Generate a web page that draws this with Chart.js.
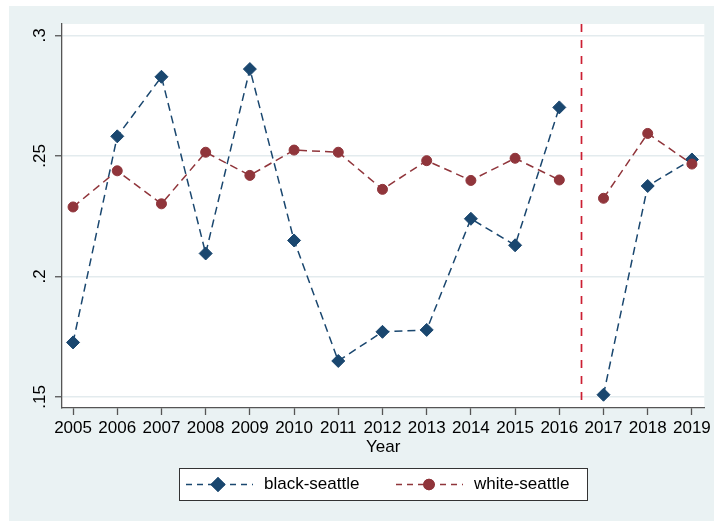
<!DOCTYPE html>
<html>
<head>
<meta charset="utf-8">
<script src="https://cdn.jsdelivr.net/npm/chart.js@4/dist/chart.umd.min.js"></script>
<style>
  html, body { margin: 0; padding: 0; background: #ffffff; }
  #wrap { width: 714px; height: 521px; }
</style>
</head>
<body>
<div id="wrap"><canvas id="c" width="714" height="521"></canvas></div>
<script>
// Yearly shares for two Seattle groups
const years = [2005, 2006, 2007, 2008, 2009, 2010, 2011, 2012, 2013, 2014, 2015, 2016, 2017, 2018, 2019];
const blackSeattle = [0.1726, 0.2581, 0.2828, 0.2095, 0.2860, 0.2149, 0.1649, 0.1770, 0.1778, 0.2239, 0.2129, 0.2701, 0.1509, 0.2375, 0.2485];
const whiteSeattle = [0.2288, 0.2438, 0.2301, 0.2515, 0.2419, 0.2524, 0.2515, 0.2361, 0.2480, 0.2398, 0.2490, 0.2400, 0.2324, 0.2593, 0.2466];
const yTicks = [0.15, 0.2, 0.25, 0.3];
const yTickLabels = ['.15', '.2', '.25', '.3'];
const seriesNames = ['black-seattle', 'white-seattle'];
const breakYear = 2016.5;   // policy line; series are not joined across it

const NAVY = '#1A476F';
const MAROON = '#90353B';
const PANEL = '#EAF2F3';
const FONT = "'Liberation Sans', Arial, Helvetica, sans-serif";

Chart.defaults.font.family = FONT;
Chart.defaults.font.size = 17;
Chart.defaults.color = '#000000';

const toPoints = vals => years.map((yr, i) => ({ x: yr, y: vals[i] }));
const skipBreak = ctx => {
  const a = years[ctx.p0DataIndex], b = years[ctx.p1DataIndex];
  return (a < breakYear && b > breakYear) ? 'transparent' : undefined;
};

const backdrop = {
  id: 'backdrop',
  beforeDraw(chart) {
    const { ctx, chartArea: a } = chart;
    ctx.save();
    ctx.fillStyle = '#ffffff';
    ctx.fillRect(0, 0, chart.width, chart.height);
    ctx.fillStyle = PANEL;
    ctx.fillRect(9, 6, chart.width - 9, chart.height - 6);
    ctx.fillStyle = '#ffffff';
    ctx.fillRect(a.left, a.top, a.right - a.left, a.bottom - a.top);
    ctx.restore();
  }
};

const extras = {
  id: 'extras',
  beforeDatasetsDraw(chart) {
    // vertical dashed marker
    const { ctx, chartArea: a, scales: { x } } = chart;
    const px = Math.round(x.getPixelForValue(breakYear)) + 0.5;
    ctx.save();
    ctx.strokeStyle = '#CC1F33';
    ctx.lineWidth = 1.7;
    ctx.setLineDash([8, 8]);
    ctx.beginPath();
    ctx.moveTo(px, a.top);
    ctx.lineTo(px, a.bottom);
    ctx.stroke();
    ctx.restore();
  },
  afterDraw(chart) {
    const { ctx, scales: { y } } = chart;
    // rotated y tick labels
    ctx.save();
    ctx.fillStyle = '#000';
    ctx.font = '17px ' + FONT;
    ctx.textAlign = 'center';
    ctx.textBaseline = 'middle';
    yTicks.forEach((v, i) => {
      const py = y.getPixelForValue(v);
      ctx.save();
      ctx.translate(40.5, py);
      ctx.rotate(-Math.PI / 2);
      ctx.fillText(yTickLabels[i], 0, 0);
      ctx.restore();
    });
    ctx.restore();

    // legend box
    const bx = 179, by = 468, bw = 408, bh = 32;
    ctx.save();
    ctx.fillStyle = '#ffffff';
    ctx.fillRect(bx, by, bw, bh);
    ctx.strokeStyle = '#333333';
    ctx.lineWidth = 1;
    ctx.strokeRect(bx + 0.5, by + 0.5, bw, bh);
    const cy = by + bh / 2 + 0.5;
    const items = [
      { ds: chart.data.datasets[0], x0: 186, x1: 253, mx: 218, tx: 264 },
      { ds: chart.data.datasets[1], x0: 396, x1: 463, mx: 429, tx: 474 }
    ];
    items.forEach(it => {
      ctx.strokeStyle = it.ds.borderColor;
      ctx.lineWidth = 1.5;
      ctx.setLineDash([6, 5]);
      ctx.beginPath();
      ctx.moveTo(it.x0, cy);
      ctx.lineTo(it.x1, cy);
      ctx.stroke();
      ctx.setLineDash([]);
      Chart.helpers.drawPoint(ctx, {
        pointStyle: it.ds.pointStyle,
        radius: it.ds.pointRadius,
        borderWidth: 1,
        rotation: 0
      }, it.mx, cy);
      ctx.fillStyle = it.ds.pointBackgroundColor;
      ctx.strokeStyle = it.ds.pointBorderColor;
      ctx.fill();
      ctx.stroke();
      ctx.fillStyle = '#000';
      ctx.font = '17px ' + FONT;
      ctx.textAlign = 'left';
      ctx.textBaseline = 'middle';
      ctx.fillText(it.ds.label, it.tx, cy);
    });
    ctx.restore();
  }
};

new Chart(document.getElementById('c'), {
  type: 'line',
  data: {
    datasets: [
      {
        label: seriesNames[0],
        data: toPoints(blackSeattle),
        borderColor: NAVY,
        backgroundColor: NAVY,
        borderWidth: 1.5,
        borderDash: [8, 5],
        pointStyle: 'rectRot',
        pointRadius: 6.5,
        pointBackgroundColor: NAVY,
        pointBorderColor: NAVY,
        pointBorderWidth: 1,
        segment: { borderColor: skipBreak },
        order: 1
      },
      {
        label: seriesNames[1],
        data: toPoints(whiteSeattle),
        borderColor: MAROON,
        backgroundColor: MAROON,
        borderWidth: 1.5,
        borderDash: [8, 5],
        pointStyle: 'circle',
        pointRadius: 5,
        pointBackgroundColor: MAROON,
        pointBorderColor: MAROON,
        pointBorderWidth: 1,
        segment: { borderColor: skipBreak },
        order: 0
      }
    ]
  },
  options: {
    responsive: false,
    animation: false,
    events: [],
    layout: { padding: { top: 24, right: 9, left: 0, bottom: 0 } },
    plugins: { legend: { display: false }, tooltip: { enabled: false } },
    scales: {
      x: {
        type: 'linear',
        min: 2004.75,
        max: 2019.28,
        afterBuildTicks: s => { s.ticks = years.map(v => ({ value: v })); },
        afterFit: s => { s.height = 113; },
        ticks: {
          autoSkip: false,
          maxRotation: 0,
          padding: 3,
          color: '#000',
          callback: v => String(v)
        },
        grid: { drawOnChartArea: false, drawTicks: true, tickLength: 7, tickColor: '#555', tickWidth: 1.3 },
        border: { color: '#555', width: 1.3 },
        title: { display: true, text: 'Year', color: '#000', font: { size: 17 }, padding: { top: 0, bottom: 63 } }
      },
      y: {
        min: 0.1454,
        max: 0.3047,
        afterBuildTicks: s => { s.ticks = yTicks.map(v => ({ value: v })); },
        afterFit: s => { s.width = 62; },
        ticks: { display: false },
        grid: { color: '#E3EBEE', lineWidth: 1.5, drawTicks: true, tickLength: 7, tickColor: '#555', tickWidth: 1.3 },
        border: { color: '#555', width: 1.3 }
      }
    }
  },
  plugins: [backdrop, extras]
});
</script>
</body>
</html>
